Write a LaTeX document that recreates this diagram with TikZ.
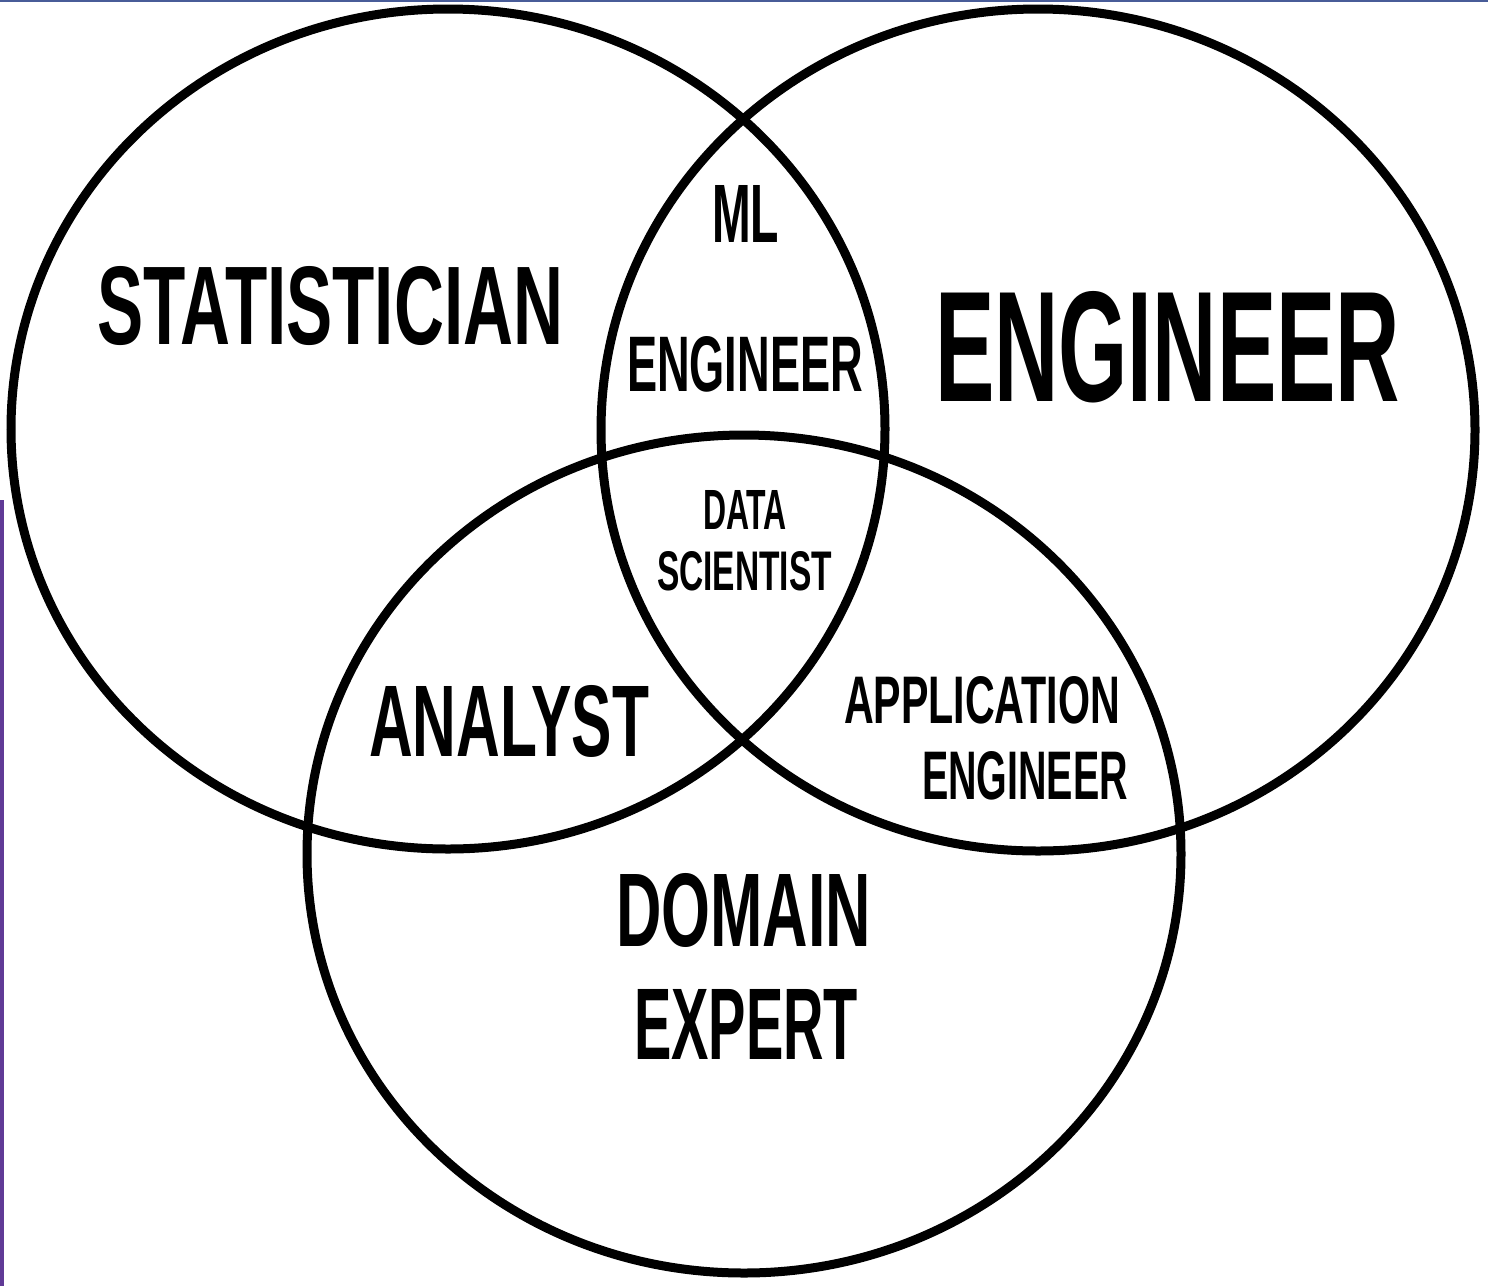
\documentclass[tikz,border=0pt]{standalone}
\usepackage{fontspec}
\setmainfont{Liberation Sans}[BoldFont={* Bold}]
\usepackage{graphicx}
\definecolor{topblue}{RGB}{72,92,152}
\definecolor{sidepurple}{RGB}{96,58,150}
\newcommand{\fitlbl}[3]{\resizebox{#1pt}{#2pt}{\bfseries #3}}
\begin{document}
\begin{tikzpicture}[x=1pt,y=-1pt,
  venn/.style={draw=black,line width=9pt},
  lbl/.style={anchor=south west,inner sep=0pt,outer sep=0pt,text=black}]
\useasboundingbox (0,0) rectangle (1488,1286);
\fill[white] (0,0) rectangle (1488,1286);
\fill[topblue] (0,0) rectangle (1488,2.2);
\fill[sidepurple] (0,500) rectangle (4,1286);
% circles
\draw[venn] (448,429) ellipse [x radius=437, y radius=420];
\draw[venn] (1038,430) ellipse [x radius=437, y radius=421];
\draw[venn] (744,854) ellipse [x radius=437, y radius=419];
% labels
\node[lbl] (stat) at (97,346) {\fitlbl{466}{78}{STATISTICIAN}};
\node[lbl] (eng) at (935,403) {\fitlbl{465}{110}{ENGINEER}};
\node[lbl] (ml) at (712,242) {\fitlbl{67}{57}{ML}};
\node[lbl] (mleng) at (627,392) {\fitlbl{236}{55}{ENGINEER}};
\node[lbl] (data) at (703,529) {\fitlbl{84}{39}{DATA}};
\node[lbl] (sci) at (657,591) {\fitlbl{175}{39}{SCIENTIST}};
\node[lbl] (analyst) at (369,757) {\fitlbl{280}{71}{ANALYST}};
\node[lbl] (app) at (844,724) {\fitlbl{276}{47}{APPLICATION}};
\node[lbl] (appeng) at (922,800) {\fitlbl{206}{48}{ENGINEER}};
\node[lbl] (domain) at (616,948) {\fitlbl{255}{73}{DOMAIN}};
\node[lbl] (expert) at (634,1059) {\fitlbl{224}{70}{EXPERT}};
\end{tikzpicture}
\end{document}
